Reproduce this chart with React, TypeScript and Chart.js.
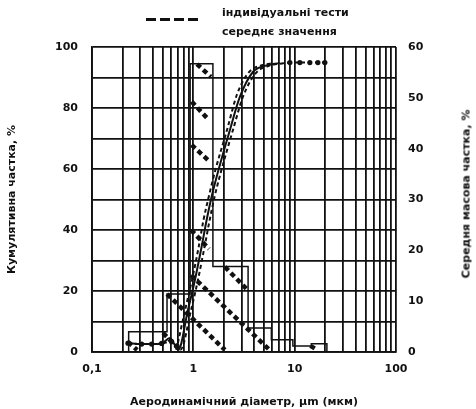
import React, { useEffect, useRef } from 'react';
import { Chart, registerables } from 'chart.js';

Chart.register(...registerables);

// ---- axis ticks ----
const xMajorTicks = [0.1, 1, 10, 100];
const xMajorLabels = ['0,1', '1', '10', '100'];
const xMinorTicks = [0.2, 0.3, 0.4, 0.5, 0.6, 0.7, 0.8, 0.9, 2, 3, 4, 5, 6, 7, 8, 9, 20, 30, 40, 50, 60, 70, 80, 90];
const leftLabelTicks = [0, 20, 40, 60, 80, 100];

// ---- histogram: mean mass fraction per size bin (right axis, %) ----
const binEdges = [0.23, 0.55, 0.93, 1.56, 3.47, 5.89, 9.6, 14.6, 20.8];
const binMass = [4.0, 11.4, 56.7, 16.8, 4.7, 2.4, 1.2, 1.6];

// ---- cumulative fraction curves (left axis, %) ----
const meanX = [0.2265, 0.309, 0.388, 0.487, 0.588, 0.71, 0.885, 1.037, 1.207, 1.353, 1.515, 1.749, 2.296, 2.884, 3.871, 5.08, 7.14];
const meanY = [2.9, 2.6, 2.6, 2.8, 4.6, 0.7, 13.8, 23.6, 34.5, 43.3, 50.9, 59.0, 72.8, 83.7, 91.8, 93.8, 94.8];

const test1X = [0.2265, 0.309, 0.388, 0.487, 0.611, 0.689, 0.745, 0.95, 1.11, 1.29, 1.45, 1.62, 1.87, 2.46, 3.09, 4.1, 5.4, 7.48, 8.97, 11.25, 14.12, 16.94, 19.86];
const test1Y = [2.9, 2.6, 2.6, 2.8, 3.4, 2.0, 0.7, 13.8, 23.6, 34.5, 43.3, 50.9, 59.0, 72.8, 83.7, 91.3, 93.7, 94.6, 94.9, 94.9, 94.9, 94.9, 94.9];

const test2X = [0.68, 0.83, 0.97, 1.13, 1.26, 1.42, 1.63, 2.15, 2.7, 3.6, 4.75, 6.2];
const test2Y = [0.7, 13.8, 23.6, 34.5, 43.3, 50.9, 59.0, 72.8, 84.5, 92.0, 94.0, 94.7];

// ---- individual-test mass fraction segments (left-axis scale, %) ----
const segStartX = [1.085, 0.962, 0.962, 0.95, 0.95, 0.55, 2.05, 0.503, 0.227, 14.3];
const segStartY = [94.4, 82.1, 67.9, 40.0, 25.2, 19.0, 27.9, 6.2, 3.3, 2.0];
const segEndX = [1.49, 1.42, 1.43, 1.43, 5.66, 2.05, 3.44, 0.738, 0.279, 16.8];
const segEndY = [90.2, 76.1, 62.6, 33.8, 0.66, 0.66, 20.3, 0.66, 0.66, 0.66];

const FONT = '"DejaVu Sans", sans-serif';
const INK = '#111111';

export default function App() {
  const ref = useRef<HTMLCanvasElement>(null);

  useEffect(() => {
    const canvas = ref.current;
    if (!canvas) return;

    const pts = (xs: number[], ys: number[]) => xs.map((x, i) => ({ x, y: ys[i] }));

    const hist: { x: number; y: number }[] = [{ x: 0.1, y: 0 }];
    for (let i = 0; i < binMass.length; i++) {
      hist.push({ x: binEdges[i], y: i === 0 ? 0 : binMass[i - 1] });
      hist.push({ x: binEdges[i], y: binMass[i] });
    }
    const lastEdge = binEdges[binEdges.length - 1];
    hist.push({ x: lastEdge, y: binMass[binMass.length - 1] });
    hist.push({ x: lastEdge, y: 0 });

    const segDatasets = segStartX.map((sx, i) => ({
      data: [
        { x: sx, y: segStartY[i] },
        { x: segEndX[i], y: segEndY[i] },
      ],
      yAxisID: 'y',
      borderColor: INK,
      borderWidth: 4.5,
      borderDash: [5, 3.5],
      borderCapStyle: 'butt' as const,
      pointRadius: 0,
      fill: false,
    }));

    const allTicks = [...xMajorTicks, ...xMinorTicks].sort((a, b) => a - b);

    const chart = new Chart(canvas, {
      type: 'line',
      data: {
        datasets: [
          {
            data: hist,
            yAxisID: 'y1',
            borderColor: INK,
            borderWidth: 1.5,
            pointRadius: 0,
            tension: 0,
            fill: false,
          },
          {
            data: pts(meanX, meanY),
            yAxisID: 'y',
            borderColor: INK,
            borderWidth: 2,
            pointRadius: 0,
            cubicInterpolationMode: 'monotone',
            fill: false,
          },
          {
            data: pts(test1X, test1Y),
            yAxisID: 'y',
            borderColor: INK,
            borderWidth: 2,
            borderDash: [4, 3],
            pointRadius: (c: any) => {
              const v = c.raw && c.raw.x;
              return v < 0.7 || v > 8.5 ? 2.6 : 0;
            },
            pointBackgroundColor: INK,
            pointBorderWidth: 0,
            cubicInterpolationMode: 'monotone',
            fill: false,
          },
          {
            data: pts(test2X, test2Y),
            yAxisID: 'y',
            borderColor: INK,
            borderWidth: 2,
            borderDash: [4, 3],
            pointRadius: 0,
            cubicInterpolationMode: 'monotone',
            fill: false,
          },
          ...segDatasets,
        ],
      },
      options: {
        animation: false,
        responsive: false,
        devicePixelRatio: 1,
        layout: { padding: { top: 47, left: 0, right: 0, bottom: 0 } },
        plugins: {
          legend: { display: false },
          tooltip: { enabled: false },
        },
        scales: {
          x: {
            type: 'logarithmic',
            min: 0.1,
            max: 100,
            afterBuildTicks: (scale: any) => {
              scale.ticks = allTicks.map((v) => ({ value: v }));
            },
            afterFit: (scale: any) => {
              scale.height = 57;
            },
            grid: { color: INK, lineWidth: 1.8, drawTicks: false },
            border: { color: INK, width: 1.8 },
            ticks: {
              autoSkip: false,
              maxRotation: 0,
              padding: 11,
              color: INK,
              font: { family: FONT, size: 11, weight: 'bold' },
              callback: (v: any) => {
                const idx = xMajorTicks.findIndex((t) => Math.abs(t - Number(v)) < 1e-9);
                return idx >= 0 ? xMajorLabels[idx] : '';
              },
            },
            title: {
              display: true,
              text: 'Аеродинамічний діаметр, μm (мкм)',
              color: INK,
              font: { family: FONT, size: 11, weight: 'bold' },
              padding: { top: 0, bottom: 0 },
            },
          },
          y: {
            position: 'left',
            min: 0,
            max: 100,
            afterFit: (scale: any) => {
              scale.width = 92;
            },
            grid: { color: INK, lineWidth: 1.8, drawTicks: false },
            border: { color: INK, width: 1.8 },
            ticks: {
              stepSize: 10,
              padding: 14,
              color: INK,
              font: { family: FONT, size: 11, weight: 'bold' },
              callback: (v: any) => (leftLabelTicks.includes(Number(v)) ? String(v) : ''),
            },
            title: {
              display: true,
              text: 'Кумулятивна частка, %',
              color: INK,
              font: { family: FONT, size: 11, weight: 'bold' },
              padding: { top: 6, bottom: 0 },
            },
          },
          y1: {
            position: 'right',
            min: 0,
            max: 60,
            afterFit: (scale: any) => {
              scale.width = 80;
            },
            grid: { drawOnChartArea: false, drawTicks: false },
            border: { display: false },
            ticks: {
              stepSize: 10,
              padding: 12,
              color: INK,
              font: { family: FONT, size: 11, weight: 'bold' },
            },
          },
        },
      } as any,
    });

    return () => chart.destroy();
  }, []);

  const textStyle: React.CSSProperties = {
    fontFamily: FONT,
    fontWeight: 'bold',
    fontSize: '11px',
    color: INK,
    whiteSpace: 'nowrap',
    position: 'absolute',
  };

  return (
    <div style={{ position: 'fixed', left: 0, top: 0, width: 476, height: 409, background: '#fff' }}>
      <canvas ref={ref} width={476} height={409} style={{ position: 'absolute', left: 0, top: 0, width: 476, height: 409 }} />
      <div
        style={{
          position: 'absolute',
          left: 146,
          top: 18,
          width: 52,
          height: 3,
          background: `repeating-linear-gradient(90deg, ${INK} 0px, ${INK} 10px, transparent 10px, transparent 14px)`,
        }}
      />
      <div style={{ ...textStyle, left: 222, top: 4, lineHeight: '18.5px' }}>
        <div>індивідуальні тести</div>
        <div>середнє значення</div>
      </div>
      <div
        style={{
          ...textStyle,
          left: 466,
          top: 194,
          transform: 'translate(-50%, -50%) rotate(-90deg)',
        }}
      >
        Середня масова частка, %
      </div>
    </div>
  );
}
